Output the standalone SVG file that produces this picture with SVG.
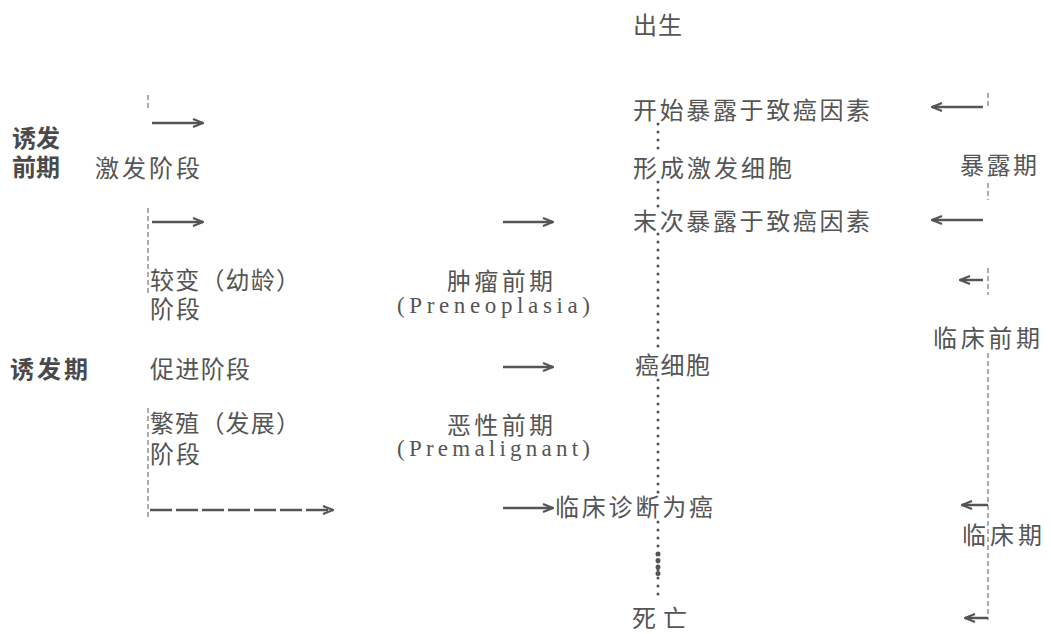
<svg xmlns="http://www.w3.org/2000/svg" width="1051" height="634" viewBox="0 0 1051 634">
<style>
.t{font-family:"Noto Sans CJK SC","Noto Sans CJK JP",sans-serif;font-size:24px;fill:#555;}
.b{font-weight:bold;fill:#4a4a4a;}
.e{font-family:"Liberation Serif","DejaVu Serif",serif;font-size:23px;fill:#555;}
.a{stroke:#555;stroke-width:2.5;fill:none;marker-end:url(#ah);}
.dot{stroke:#555;stroke-width:3;stroke-linecap:round;stroke-dasharray:0 8;fill:none;}
.thin{stroke:#777;stroke-width:1.2;stroke-dasharray:5 3;fill:none;}
</style>
<defs>
<marker id="ah" viewBox="0 0 12 10" refX="11" refY="5" markerWidth="12" markerHeight="10" markerUnits="userSpaceOnUse" orient="auto">
<path d="M1,1 L11,5 L1,9" fill="none" stroke="#555" stroke-width="2.2"/>
</marker>
</defs>
<rect width="1051" height="634" fill="#fff"/>

<g id="connectors">
  <path class="thin" d="M148,95 V108 M148,208 V295 M148,408 V520"/>
  <line class="a" x1="152" y1="123" x2="203" y2="123"/>
  <line class="a" x1="152" y1="222" x2="203" y2="222"/>
  <line class="a" x1="150" y1="510" x2="333" y2="510" stroke-dasharray="22 4"/>
  <line class="a" x1="503" y1="222" x2="553" y2="222"/>
  <line class="a" x1="503" y1="367" x2="553" y2="367"/>
  <line class="a" x1="503" y1="508" x2="553" y2="508"/>
  <path class="dot" d="M658,124 V156 M658,182 V208 M658,234 V352 M658,380 V494 M658,522 V602"/>
  <path d="M658,554 V574" stroke="#555" stroke-width="5" stroke-linecap="round" stroke-dasharray="0 6.5"/>
  <path class="thin" d="M988,93 V107 M988,183 V200 M988,268 V295 M988,353 V620"/>
  <line class="a" x1="983" y1="107" x2="932" y2="107"/>
  <line class="a" x1="983" y1="220" x2="932" y2="220"/>
  <line class="a" x1="983" y1="280" x2="960" y2="280"/>
  <line class="a" x1="988" y1="505" x2="962" y2="505"/>
  <line class="a" x1="988" y1="618" x2="965" y2="618"/>
</g>

<g id="induction-prephase">
  <text class="t b"><tspan x="12" y="147" textLength="48">诱发</tspan><tspan x="12" y="176" textLength="48">前期</tspan></text>
</g>
<g id="induction-phase"><text class="t b" x="10" y="378" textLength="78">诱发期</text></g>
<g id="stage-initiation"><text class="t" x="95" y="177" textLength="105">激发阶段</text></g>
<g id="stage-transformation">
  <text class="t"><tspan x="150" y="289" textLength="150">较变（幼龄）</tspan><tspan x="150" y="318" textLength="50">阶段</tspan></text>
</g>
<g id="stage-promotion"><text class="t" x="150" y="378" textLength="100">促进阶段</text></g>
<g id="stage-proliferation">
  <text class="t"><tspan x="150" y="432" textLength="150">繁殖（发展）</tspan><tspan x="150" y="463" textLength="50">阶段</tspan></text>
</g>
<g id="preneoplasia">
  <text class="t"><tspan x="447" y="290" textLength="106">肿瘤前期</tspan><tspan class="e" x="397" y="313" textLength="193">(Preneoplasia)</tspan></text>
</g>
<g id="premalignant">
  <text class="t"><tspan x="447" y="434" textLength="106">恶性前期</tspan><tspan class="e" x="397" y="456" textLength="193">(Premalignant)</tspan></text>
</g>

<g id="birth"><text class="t" x="633" y="34" textLength="49">出生</text></g>
<g id="first-exposure"><text class="t" x="633" y="119" textLength="237">开始暴露于致癌因素</text></g>
<g id="initiated-cell"><text class="t" x="633" y="177" textLength="159">形成激发细胞</text></g>
<g id="last-exposure"><text class="t" x="633" y="230" textLength="237">末次暴露于致癌因素</text></g>
<g id="cancer-cell"><text class="t" x="635" y="374" textLength="75">癌细胞</text></g>
<g id="clinical-diagnosis"><text class="t" x="555" y="516" textLength="158">临床诊断为癌</text></g>
<g id="death"><text class="t" x="632" y="627" textLength="55">死 亡</text></g>

<g id="exposure-period"><text class="t" x="960" y="174" textLength="77">暴露期</text></g>
<g id="preclinical-period"><text class="t" x="933" y="347" textLength="107">临床前期</text></g>
<g id="clinical-period"><text class="t" x="962" y="544" textLength="80">临床期</text></g>
</svg>
